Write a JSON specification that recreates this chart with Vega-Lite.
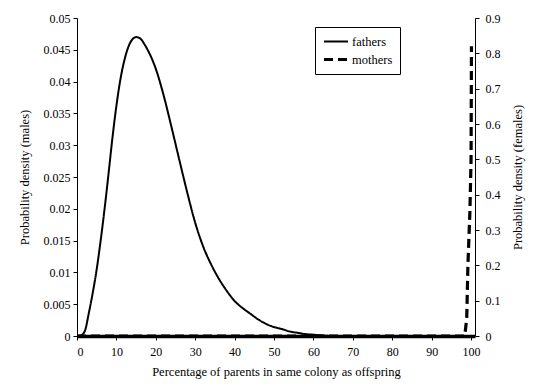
{
  "$schema": "https://vega.github.io/schema/vega-lite/v6.json",
  "autosize": "none",
  "width": 398,
  "height": 318,
  "padding": {"left": 77, "top": 18, "right": 61, "bottom": 51},
  "background": "white",
  "config": {
    "view": {"stroke": null},
    "font": "Times New Roman",
    "axis": {
      "labelFont": "Times New Roman",
      "titleFont": "Times New Roman",
      "labelFontSize": 12,
      "titleFontSize": 12.5,
      "titleFontWeight": "normal",
      "labelColor": "#000",
      "titleColor": "#000",
      "domainColor": "#000",
      "tickColor": "#000",
      "grid": false,
      "tickSize": 4,
      "domainWidth": 1,
      "tickWidth": 1
    },
    "axisX": {"domainWidth": 3.5},
    "legend": {
      "labelFont": "Times New Roman",
      "labelFontSize": 12.5,
      "labelColor": "#000"
    }
  },
  "datasets": {
    "fathers": [
      {"pct": 0, "density": 0, "series": "fathers"},
      {"pct": 1, "density": 0.0001, "series": "fathers"},
      {"pct": 2, "density": 0.0008, "series": "fathers"},
      {"pct": 3, "density": 0.0036, "series": "fathers"},
      {"pct": 4, "density": 0.0068, "series": "fathers"},
      {"pct": 5, "density": 0.0105, "series": "fathers"},
      {"pct": 6, "density": 0.015, "series": "fathers"},
      {"pct": 7, "density": 0.02, "series": "fathers"},
      {"pct": 8, "density": 0.0255, "series": "fathers"},
      {"pct": 9, "density": 0.0312, "series": "fathers"},
      {"pct": 10, "density": 0.0362, "series": "fathers"},
      {"pct": 11, "density": 0.0403, "series": "fathers"},
      {"pct": 12, "density": 0.0433, "series": "fathers"},
      {"pct": 13, "density": 0.0454, "series": "fathers"},
      {"pct": 14, "density": 0.0466, "series": "fathers"},
      {"pct": 15, "density": 0.047, "series": "fathers"},
      {"pct": 16, "density": 0.0468, "series": "fathers"},
      {"pct": 17, "density": 0.046, "series": "fathers"},
      {"pct": 18, "density": 0.0449, "series": "fathers"},
      {"pct": 19, "density": 0.0436, "series": "fathers"},
      {"pct": 20, "density": 0.042, "series": "fathers"},
      {"pct": 22, "density": 0.0378, "series": "fathers"},
      {"pct": 24, "density": 0.0328, "series": "fathers"},
      {"pct": 26, "density": 0.0276, "series": "fathers"},
      {"pct": 28, "density": 0.0225, "series": "fathers"},
      {"pct": 30, "density": 0.0178, "series": "fathers"},
      {"pct": 32, "density": 0.0141, "series": "fathers"},
      {"pct": 34, "density": 0.0113, "series": "fathers"},
      {"pct": 36, "density": 0.009, "series": "fathers"},
      {"pct": 38, "density": 0.0071, "series": "fathers"},
      {"pct": 40, "density": 0.0055, "series": "fathers"},
      {"pct": 42, "density": 0.0044, "series": "fathers"},
      {"pct": 44, "density": 0.0035, "series": "fathers"},
      {"pct": 46, "density": 0.0026, "series": "fathers"},
      {"pct": 48, "density": 0.0019, "series": "fathers"},
      {"pct": 50, "density": 0.0014, "series": "fathers"},
      {"pct": 52, "density": 0.0011, "series": "fathers"},
      {"pct": 54, "density": 0.0007, "series": "fathers"},
      {"pct": 56, "density": 0.0005, "series": "fathers"},
      {"pct": 58, "density": 0.0003, "series": "fathers"},
      {"pct": 60, "density": 0.0002, "series": "fathers"},
      {"pct": 62, "density": 0.0001, "series": "fathers"},
      {"pct": 65, "density": 0, "series": "fathers"},
      {"pct": 100, "density": 0, "series": "fathers"}
    ],
    "mothers": [
      {"pct": 0, "density": 0, "series": "mothers"},
      {"pct": 98.4, "density": 0, "series": "mothers"},
      {"pct": 98.9, "density": 0.05, "series": "mothers"},
      {"pct": 99.2, "density": 0.2, "series": "mothers"},
      {"pct": 99.7, "density": 0.35, "series": "mothers"},
      {"pct": 100, "density": 0.5, "series": "mothers"},
      {"pct": 100.1, "density": 0.82, "series": "mothers"}
    ]
  },
  "encoding": {
    "x": {
      "field": "pct",
      "type": "quantitative",
      "scale": {"domain": [0, 101], "nice": false, "zero": false},
      "axis": {
        "title": "Percentage of parents in same colony as offspring",
        "values": [0, 10, 20, 30, 40, 50, 60, 70, 80, 90, 100],
        "format": "d",
        "labelPadding": 6,
        "titlePadding": 8
      }
    },
    "strokeDash": {
      "field": "series",
      "type": "nominal",
      "scale": {"domain": ["fathers", "mothers"], "range": [[1, 0], [9, 5]]},
      "legend": {
        "title": null,
        "orient": "none",
        "legendX": 238,
        "legendY": 9,
        "symbolType": "stroke",
        "symbolSize": 576,
        "symbolStrokeColor": "#000",
        "strokeColor": "#000",
        "fillColor": "#fff",
        "padding": 7,
        "rowPadding": 3,
        "clipHeight": 15,
        "labelOffset": 2,
        "cornerRadius": 0
      }
    },
    "strokeWidth": {
      "field": "series",
      "type": "nominal",
      "scale": {"domain": ["fathers", "mothers"], "range": [2, 3.2]},
      "legend": {
        "title": null,
        "orient": "none",
        "legendX": 238,
        "legendY": 9,
        "symbolType": "stroke",
        "symbolSize": 576,
        "symbolStrokeColor": "#000",
        "strokeColor": "#000",
        "fillColor": "#fff",
        "padding": 7,
        "rowPadding": 3,
        "clipHeight": 15,
        "labelOffset": 2,
        "cornerRadius": 0
      }
    }
  },
  "layer": [
    {
      "data": {"name": "fathers"},
      "mark": {"type": "line", "color": "#000", "interpolate": "monotone"},
      "encoding": {
        "y": {
          "field": "density",
          "type": "quantitative",
          "scale": {"domain": [0, 0.05], "nice": false},
          "axis": {
            "title": "Probability density (males)",
            "values": [0, 0.005, 0.01, 0.015, 0.02, 0.025, 0.03, 0.035, 0.04, 0.045, 0.05],
            "format": "~g",
            "labelPadding": 3,
            "titlePadding": 12
          }
        }
      }
    },
    {
      "data": {"name": "mothers"},
      "mark": {"type": "line", "color": "#000", "clip": false},
      "encoding": {
        "y": {
          "field": "density",
          "type": "quantitative",
          "scale": {"domain": [0, 0.9], "nice": false},
          "axis": {
            "orient": "right",
            "title": "Probability density (females)",
            "titleAngle": 270,
            "values": [0, 0.1, 0.2, 0.3, 0.4, 0.5, 0.6, 0.7, 0.8, 0.9],
            "format": "~g",
            "labelPadding": 6,
            "titlePadding": 24
          }
        }
      }
    }
  ],
  "resolve": {"scale": {"y": "independent"}, "axis": {"y": "independent"}}
}
